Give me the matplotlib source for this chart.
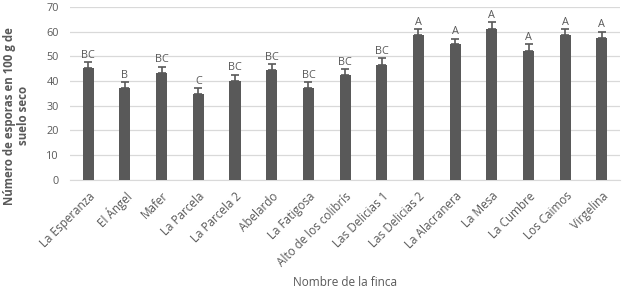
import matplotlib
matplotlib.use("Agg")
import matplotlib.pyplot as plt
import numpy as np

fincas = ['La Esperanza', 'El Ángel', 'Mafer', 'La Parcela', 'La Parcela 2',
          'Abelardo', 'La Fatigosa', 'Alto de los colibrís', 'Las Delicias 1',
          'Las Delicias 2', 'La Alacranera', 'La Mesa', 'La Cumbre',
          'Los Caimos', 'Virgelina']
esporas = [45.1, 37.0, 43.3, 34.7, 40.1, 44.3, 37.0, 42.3, 46.6,
           58.5, 54.8, 61.1, 52.2, 58.5, 57.5]
error = [2.4, 2.4, 2.5, 2.3, 2.4, 2.4, 2.4, 2.4, 2.5,
         2.5, 2.3, 2.6, 2.7, 2.5, 2.5]
letras = ['BC', 'B', 'BC', 'C', 'BC', 'BC', 'BC', 'BC', 'BC',
          'A', 'A', 'A', 'A', 'A', 'A']

plt.rcParams['font.family'] = ['Open Sans', 'DejaVu Sans']
gris = '#595959'

fig = plt.figure(figsize=(6.24, 2.94), dpi=100)
ax = fig.add_axes([0.112, 0.388, 0.882, 0.589])

x = np.arange(len(fincas))
ax.bar(x, esporas, width=0.3, color=gris, zorder=3)
ax.errorbar(x, esporas, yerr=[np.zeros(len(error)), error], fmt='none',
            ecolor=gris, elinewidth=1.2, capsize=2.6, capthick=1.2, zorder=4)

for xi, v, e, t in zip(x, esporas, error, letras):
    ax.text(xi, v + e + 0.6, t, ha='center', va='bottom', fontsize=7.8, color=gris)

ax.set_xlim(-0.5, len(fincas) - 0.5)
ax.set_ylim(0, 70)
ax.set_yticks(range(0, 71, 10))
ax.yaxis.grid(True, color='#d9d9d9', linewidth=0.9, zorder=0)
for s in ['top', 'right', 'left']:
    ax.spines[s].set_visible(False)
ax.spines['bottom'].set_color('#d9d9d9')
ax.tick_params(axis='both', length=0, colors=gris, labelsize=7.8)
ax.tick_params(axis='y', pad=8)
ax.tick_params(axis='x', labelsize=8.4, pad=7)
ax.set_xticks(x)
ax.set_xticklabels(fincas, rotation=45, ha='right', rotation_mode='anchor')

ax.set_ylabel('Número de esporas en 100 g de\nsuelo seco', fontsize=8.3,
              fontweight='bold', color=gris, linespacing=1.1)
ax.yaxis.set_label_coords(-0.073, 0.37)
ax.set_xlabel('Nombre de la finca', fontsize=8.5, color=gris, labelpad=5)

fig.savefig('out.png', dpi=100)
